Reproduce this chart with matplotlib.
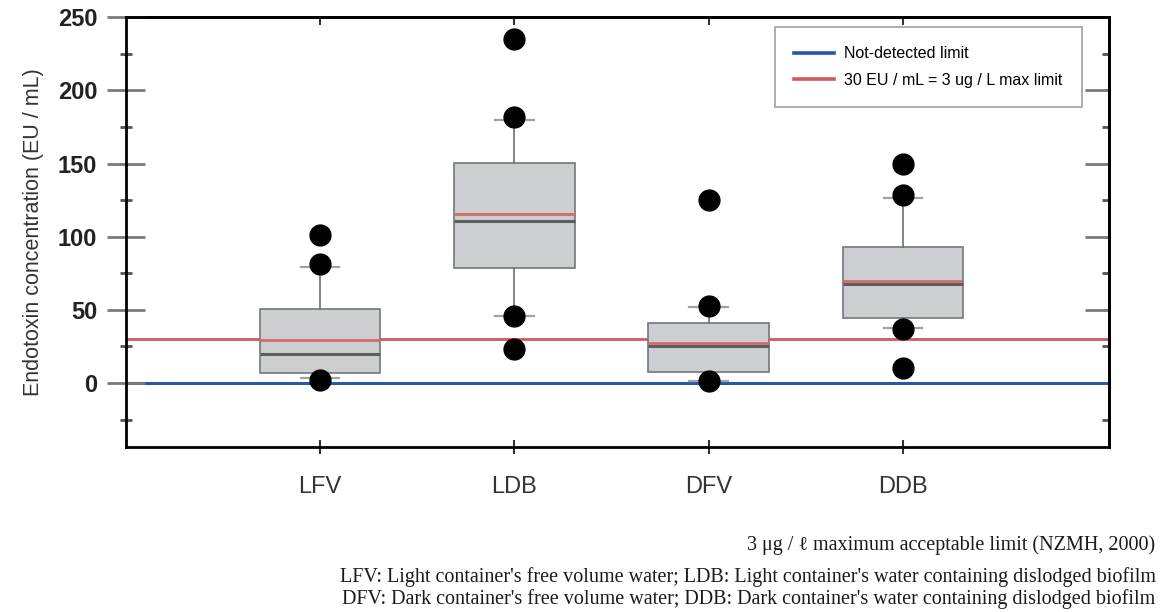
import numpy as np
import matplotlib
matplotlib.use("Agg")
import matplotlib.pyplot as plt

# values (EU / mL)
categories = ['LFV', 'LDB', 'DFV', 'DDB']
q1 = [7.0, 78.5, 7.5, 44.5]
medians = [19.5, 110.5, 25.0, 68.0]
q3 = [50.5, 150.5, 41.0, 93.0]
means = [29.5, 115.5, 27.5, 70.0]
whisker_low = [3.5, 46.0, 1.0, 37.5]
whisker_high = [79.0, 180.0, 52.0, 126.5]
outliers = [[101, 81, 2], [235, 182, 46, 23], [125, 52.5, 1], [150, 128.5, 37, 10]]
not_detected = 0
max_limit = 30

plt.rcParams['font.family'] = ['Liberation Sans', 'DejaVu Sans']

fig = plt.figure(figsize=(11.66, 6.12), dpi=100)
ax = fig.add_axes([0.1078, 0.2691, 0.8433, 0.7026])

# reference lines
ax.axhline(not_detected, color='#2b56a8', lw=2.2, zorder=1, label='Not-detected limit')
ax.axhline(max_limit, color='#d25a5c', lw=2.0, zorder=1, label='30 EU / mL = 3 ug / L max limit')

# box stats built from the arrays above
stats = []
for i in range(len(categories)):
    stats.append(dict(label=categories[i], q1=q1[i], med=medians[i], q3=q3[i],
                      mean=means[i], whislo=whisker_low[i], whishi=whisker_high[i],
                      fliers=outliers[i]))

positions = np.arange(1, len(categories) + 1)
ax.bxp(stats, positions=positions, widths=0.62, capwidths=0.2, patch_artist=True,
       showmeans=True, meanline=True, manage_ticks=False, zorder=3,
       boxprops=dict(facecolor='#cdced2', edgecolor='#74787a', lw=1.2),
       medianprops=dict(color='#5b5f60', lw=2.2),
       meanprops=dict(color='#d46a6c', lw=2.0, linestyle='-'),
       whiskerprops=dict(color='#6d7173', lw=1.2),
       capprops=dict(color='#9aa6a4', lw=1.6),
       flierprops=dict(marker='o', markerfacecolor='black', markeredgecolor='black',
                       markersize=15))

ax.set_xlim(0.0, 5.06)
ax.set_ylim(-44, 250)

# axes styling
for s in ax.spines.values():
    s.set_linewidth(2.0)
    s.set_color('black')

ax.set_yticks(np.arange(0, 251, 50))
ax.set_yticks(np.arange(-25, 250, 50), minor=True)
ax.tick_params(axis='y', which='major', direction='inout', length=27, width=2,
               color='#7a7a7a', pad=7, labelsize=17, labelcolor='#222222')
ax.tick_params(axis='y', which='minor', direction='inout', length=8, width=2, color='#555555')
for lab in ax.get_yticklabels():
    lab.set_fontweight('bold')

ax.set_xticks(positions)
ax.set_xticklabels(categories)
ax.tick_params(axis='x', direction='inout', length=10, width=1.5, color='#333333',
               pad=16, labelsize=17, labelcolor='#333333')

# right axis: inward ticks only
ax_r = ax.secondary_yaxis('right')
ax_r.set_yticks(np.arange(0, 251, 50))
ax_r.set_yticks(np.arange(-25, 250, 50), minor=True)
ax_r.tick_params(which='major', direction='in', length=17, width=2, color='#7a7a7a', labelright=False)
ax_r.tick_params(which='minor', direction='in', length=5, width=2, color='#555555')
ax_r.spines['right'].set_linewidth(2.0)

# top axis: short inward ticks at categories
ax_t = ax.secondary_xaxis('top')
ax_t.set_xticks(positions)
ax_t.tick_params(direction='in', length=6, width=1.5, color='#333333', labeltop=False)
ax_t.spines['top'].set_linewidth(2.0)

ax.set_ylabel('Endotoxin concentration (EU / mL)', fontsize=15.5, color='#333333', labelpad=10)

leg = ax.legend(loc='upper right', bbox_to_anchor=(0.9725, 0.977), borderaxespad=0,
                fontsize=11.5, frameon=True, fancybox=False, borderpad=1.2,
                labelspacing=0.7, handlelength=2.5, handletextpad=0.65)
leg.get_frame().set_edgecolor('#888888')
leg.get_frame().set_linewidth(1.2)
for line in leg.get_lines():
    line.set_linewidth(2.6)

# notes under the chart
serif = ['Liberation Serif', 'DejaVu Serif']
fig.text(0.991, 0.109, '3 \u03bcg / \u2113 maximum acceptable limit (NZMH, 2000)',
         ha='right', va='center', fontsize=14.5, family=serif, color='#1a1a1a')
fig.text(0.991, 0.057, "LFV: Light container's free volume water; LDB: Light container's water containing dislodged biofilm",
         ha='right', va='center', fontsize=14.5, family=serif, color='#1a1a1a')
fig.text(0.991, 0.021, "DFV: Dark container's free volume water; DDB: Dark container's water containing dislodged biofilm",
         ha='right', va='center', fontsize=14.5, family=serif, color='#1a1a1a')

fig.savefig('out.png', dpi=100)
